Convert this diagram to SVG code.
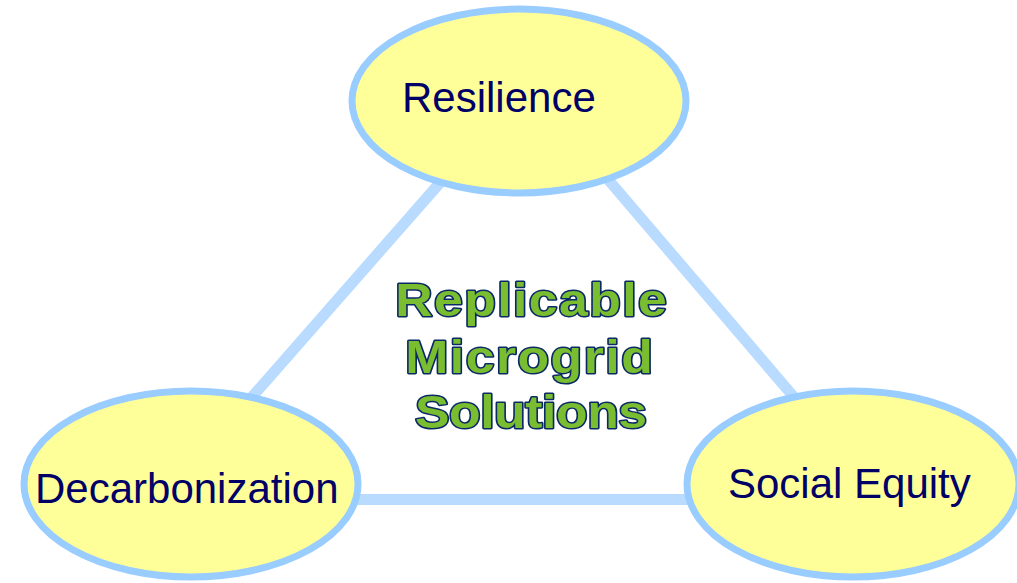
<svg xmlns="http://www.w3.org/2000/svg" width="1017" height="583" viewBox="0 0 1017 583">
<style>
.node ellipse{fill:#FFFF99;stroke:#99CCFF;stroke-width:7}
.node text{font-family:"Liberation Sans",Arial,sans-serif;font-size:42px;fill:#000066}
.conn line{stroke:#B8DBFF;stroke-width:11;stroke-linecap:butt}
.title text{font-family:"Liberation Sans",Arial,sans-serif;font-weight:bold;font-size:47px;fill:#7BBD31;stroke:#0A2A66;stroke-width:3;stroke-linejoin:round;paint-order:stroke fill;text-anchor:middle}
</style>
<rect width="1017" height="583" fill="#FFFFFF"/>
<g id="connectors" class="conn">
<line x1="445" y1="177" x2="245" y2="405"/>
<line x1="600" y1="170" x2="805" y2="410"/>
<line x1="350" y1="499.5" x2="700" y2="499.5"/>
</g>
<g id="resilience" class="node">
<ellipse cx="519" cy="101" rx="167" ry="92"/>
<text x="402" y="112">Resilience</text>
</g>
<g id="decarbonization" class="node">
<ellipse cx="191" cy="484" rx="167" ry="93"/>
<text x="35" y="503">Decarbonization</text>
</g>
<g id="social-equity" class="node">
<ellipse cx="853" cy="484" rx="166" ry="93"/>
<text x="728" y="498">Social Equity</text>
</g>
<g id="center-title" class="title">
<text transform="translate(531,316) scale(1.1,1)" textLength="247" lengthAdjust="spacing">Replicable</text>
<text transform="translate(529,373) scale(1.1,1)" textLength="225" lengthAdjust="spacing">Microgrid</text>
<text transform="translate(531,428) scale(1.1,1)" textLength="211" lengthAdjust="spacing">Solutions</text>
</g>
</svg>
